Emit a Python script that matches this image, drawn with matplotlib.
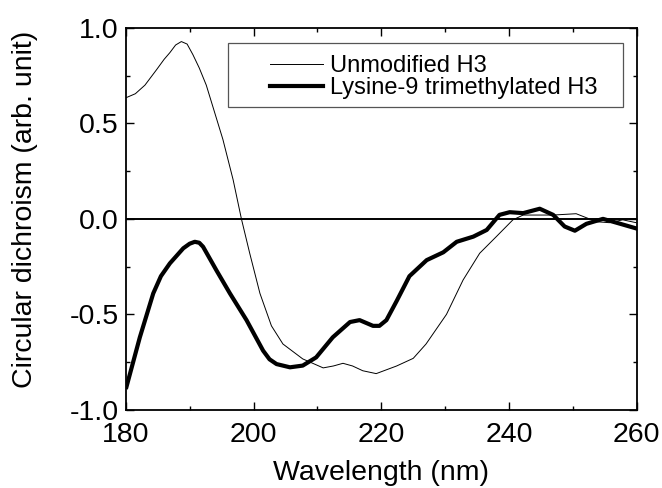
import matplotlib.pyplot as plt
from matplotlib.ticker import MultipleLocator
from matplotlib.patches import Rectangle

plt.rcParams['font.family'] = ['Liberation Sans', 'DejaVu Sans']

# Unmodified H3 (thin line)
wl_unmod = [180.1, 181.5, 183.0, 184.8, 186.0, 186.9, 187.8, 188.7, 189.6, 190.5,
            191.5, 192.6, 195.2, 196.8, 198.1, 199.4, 201.0, 202.8, 204.6, 207.7,
            210.9, 212.5, 214.0, 215.5, 217.1, 219.2, 222.4, 225.0, 227.0, 230.2,
            232.8, 235.4, 238.0, 240.6, 242.2, 246.9, 250.5, 253.7, 255.7, 257.8,
            259.9]
cd_unmod = [0.635, 0.655, 0.70, 0.78, 0.835, 0.87, 0.91, 0.928, 0.915, 0.86,
            0.79, 0.70, 0.416, 0.205, 0.0, -0.18, -0.39, -0.56, -0.655, -0.733,
            -0.78, -0.77, -0.756, -0.77, -0.795, -0.81, -0.77, -0.73, -0.655, -0.50,
            -0.32, -0.18, -0.093, -0.005, 0.02, 0.02, 0.027, -0.015, -0.02, -0.005,
            -0.02]

# Lysine-9 trimethylated H3 (thick line)
wl_k9 = [180.1, 182.2, 184.3, 185.5, 186.9, 189.0, 190.0, 190.8, 191.5, 192.1,
         194.2, 196.3, 198.9, 200.2, 201.5, 202.5, 203.6, 205.7, 207.7, 209.8,
         212.4, 215.1, 216.6, 218.7, 219.7, 220.8, 222.4, 224.4, 227.1, 229.7,
         231.8, 234.4, 236.5, 238.5, 240.1, 242.2, 244.8, 246.9, 248.7, 250.3,
         252.1, 254.7, 256.8, 259.9]
cd_k9 = [-0.88, -0.62, -0.39, -0.30, -0.233, -0.154, -0.13, -0.12, -0.125, -0.146,
         -0.27, -0.39, -0.53, -0.61, -0.69, -0.735, -0.76, -0.777, -0.768, -0.725,
         -0.62, -0.54, -0.53, -0.56, -0.56, -0.53, -0.43, -0.30, -0.216, -0.175,
         -0.12, -0.093, -0.058, 0.021, 0.035, 0.03, 0.053, 0.021, -0.04, -0.062,
         -0.026, 0.0, -0.02, -0.05]


def main():
    fig = plt.figure(figsize=(6.62, 4.88), dpi=100)
    ax = fig.add_axes([0.190, 0.160, 0.772, 0.783])

    ax.axhline(0, color='black', lw=1.4, zorder=1)
    ax.plot(wl_unmod, cd_unmod, color='black', lw=0.7, label='Unmodified H3')
    ax.plot(wl_k9, cd_k9, color='black', lw=3.0, label='Lysine-9 trimethylated H3')

    ax.set_xlim(180, 260)
    ax.set_ylim(-1.0, 1.0)
    ax.xaxis.set_major_locator(MultipleLocator(20))
    ax.xaxis.set_minor_locator(MultipleLocator(10))
    ax.yaxis.set_major_locator(MultipleLocator(0.5))
    ax.yaxis.set_minor_locator(MultipleLocator(0.25))
    ax.tick_params(which='both', direction='in', top=True, right=True,
                   labelsize=20.5, width=1.0)
    ax.tick_params(which='major', length=6)
    ax.tick_params(which='minor', length=3.2)
    ax.tick_params(axis='x', pad=9)
    ax.tick_params(axis='y', pad=5)
    ax.yaxis.set_major_formatter(plt.FuncFormatter(lambda v, p: f'{v:.1f}'))
    for s in ax.spines.values():
        s.set_linewidth(1.3)

    ax.set_xlabel('Wavelength (nm)', fontsize=20.5, labelpad=8)
    ax.set_ylabel('Circular dichroism (arb. unit)', fontsize=20.5)
    ax.yaxis.set_label_coords(-0.172, 0.524)

    # legend frame is wider than the entries, with room left of the handles
    ax.add_patch(Rectangle((0.1996, 0.793), 0.773, 0.168, transform=ax.transAxes,
                           fill=False, edgecolor='#555555', lw=0.9, zorder=3))
    ax.legend(loc='upper left', bbox_to_anchor=(0.282, 0.928), fontsize=17,
              frameon=False, handlelength=2.25, handletextpad=0.3,
              borderpad=0, labelspacing=0.0, borderaxespad=0)

    plt.savefig('out.png', dpi=100)


if __name__ == "__main__":
    main()
